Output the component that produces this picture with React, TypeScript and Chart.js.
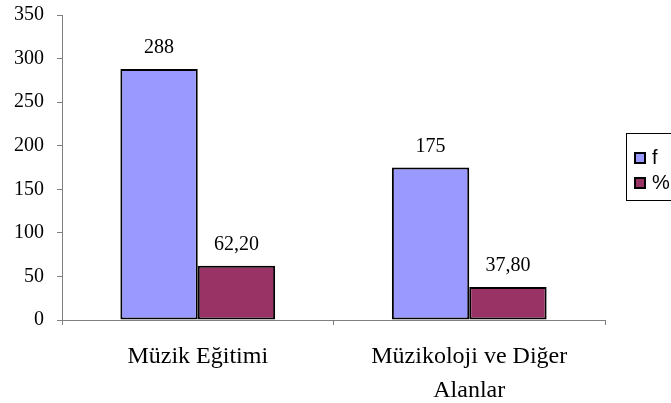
import React, { useEffect, useRef } from "react";
import { Chart, registerables } from "chart.js";

Chart.register(...registerables);

const categories: (string | string[])[] = ["Müzik Eğitimi", ["Müzikoloji ve Diğer", "Alanlar"]];
const seriesNames = ["f", "%"];
const fValues = [288, 175];
const pctValues = [62.2, 37.8];
const seriesColors = ["#9999FF", "#993366"];
const yMin = 0;
const yMax = 350;
const yStep = 50;

const SERIF = "'Liberation Serif', 'Times New Roman', serif";
const SANS = "'Liberation Sans', Arial, sans-serif";

const labelPlugin = {
  id: "valueLabels",
  afterDatasetsDraw(chart: any) {
    const ctx = chart.ctx;
    ctx.save();
    ctx.font = `20px ${SERIF}`;
    ctx.fillStyle = "#000";
    ctx.textAlign = "center";
    ctx.textBaseline = "alphabetic";
    chart.data.datasets.forEach((ds: any, di: number) => {
      const meta = chart.getDatasetMeta(di);
      meta.data.forEach((bar: any, i: number) => {
        const v = ds.data[i] as number;
        const txt = di === 0 ? String(Math.round(v)) : v.toFixed(2).replace(".", ",");
        ctx.fillText(txt, bar.x, bar.y - 16);
      });
    });
    ctx.restore();
  },
};

const legendPlugin = {
  id: "boxLegend",
  afterDraw(chart: any) {
    const ctx = chart.ctx;
    ctx.save();
    ctx.strokeStyle = "#000";
    ctx.lineWidth = 1;
    ctx.strokeRect(626.5, 133.5, 60, 67);
    ctx.font = `20px ${SANS}`;
    ctx.textAlign = "left";
    ctx.textBaseline = "middle";
    seriesNames.forEach((name, i) => {
      const cy = 158 + i * 25;
      ctx.fillStyle = seriesColors[i];
      ctx.fillRect(635, cy - 5, 10, 10);
      ctx.lineWidth = 2;
      ctx.strokeStyle = "#000";
      ctx.strokeRect(635, cy - 5, 10, 10);
      ctx.fillStyle = "#000";
      ctx.fillText(name, 652, cy);
    });
    ctx.restore();
  },
};

export default function App() {
  const ref = useRef<HTMLCanvasElement | null>(null);
  useEffect(() => {
    if (!ref.current) return;
    const chart = new Chart(ref.current, {
      type: "bar",
      data: {
        labels: categories,
        datasets: [
          {
            label: seriesNames[0],
            data: fValues,
            backgroundColor: seriesColors[0],
            borderColor: "#000",
            borderWidth: 2,
            borderSkipped: false,
            categoryPercentage: 0.57,
            barPercentage: 1,
          },
          {
            label: seriesNames[1],
            data: pctValues,
            backgroundColor: seriesColors[1],
            borderColor: "#000",
            borderWidth: 2,
            borderSkipped: false,
            categoryPercentage: 0.57,
            barPercentage: 1,
          },
        ],
      },
      options: {
        responsive: false,
        animation: false,
        layout: { padding: { left: 0, top: 15, right: 66, bottom: 0 } },
        plugins: { legend: { display: false }, tooltip: { enabled: false } },
        scales: {
          x: {
            afterFit: (s: any) => {
              s.height = 83;
              s.paddingLeft = 0;
              s.paddingRight = 0;
            },
            grid: {
              display: true,
              drawOnChartArea: false,
              drawTicks: true,
              tickLength: 5,
              color: "#808080",
              offset: true,
            },
            border: { color: "#808080", width: 1 },
            ticks: {
              color: "#000",
              padding: 15,
              maxRotation: 0,
              autoSkip: false,
              font: { family: SERIF, size: 24, lineHeight: 1.42 },
            },
          },
          y: {
            min: yMin,
            max: yMax,
            afterFit: (s: any) => {
              s.width = 62;
              s.paddingTop = 0;
              s.paddingBottom = 0;
            },
            grid: {
              display: true,
              drawOnChartArea: false,
              drawTicks: true,
              tickLength: 5,
              color: "#808080",
            },
            border: { color: "#808080", width: 1 },
            ticks: {
              stepSize: yStep,
              color: "#000",
              padding: 13,
              font: { family: SERIF, size: 20 },
            },
          },
        },
      },
      plugins: [labelPlugin, legendPlugin],
    });
    return () => chart.destroy();
  }, []);
  return (
    <div style={{ position: "absolute", left: 0, top: 0, width: 671, height: 403, background: "#fff" }}>
      <canvas ref={ref} width={671} height={403} />
    </div>
  );
}
